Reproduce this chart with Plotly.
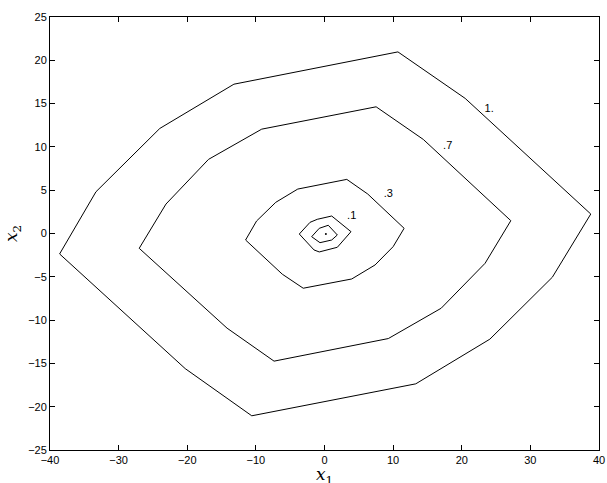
import plotly.graph_objects as go

# Contour level 1.0 (outer)
c10_x = [-38.6, -33.3, -24.0, -13.2, 10.7, 20.5, 38.8, 33.2, 24.1, 13.3, -10.6, -20.3]
c10_y = [-2.36, 4.82, 12.13, 17.24, 20.97, 15.6, 2.25, -5.05, -12.2, -17.36, -21.05, -15.6]
# Contour level 0.7
c07_x = [-27.0, -23.1, -16.9, -9.15, 7.52, 14.4, 27.15, 23.4, 17.0, 9.3, -7.35, -14.2]
c07_y = [-1.71, 3.4, 8.56, 12.05, 14.63, 10.86, 1.48, -3.44, -8.63, -12.13, -14.74, -10.93]
# Contour level 0.3
c03_x = [-11.5, -9.9, -7.1, -3.9, 3.25, 6.3, 11.6, 10.0, 7.37, 3.97, -3.1, -6.15]
c03_y = [-0.75, 1.44, 3.6, 5.13, 6.25, 4.56, 0.6, -1.52, -3.63, -5.25, -6.32, -4.7]
# Contour level 0.1
c01_x = [-3.67, -2.11, -1.05, 1.05, 3.86, 1.87, -0.76, -1.53]
c01_y = [-0.06, 1.29, 1.64, 2.02, 0.21, -1.59, -2.13, -1.9]
# Innermost contour
c00_x = [-1.87, -0.76, 0.55, 1.87, 1.05, -0.66]
c00_y = [-0.37, 0.6, 0.95, -0.17, -0.75, -1.06]
# Center point
ctr_x = [0.2]
ctr_y = [-0.06]

labels_text = ["1.", ".7", ".3", ".1"]
labels_x = [24.0, 17.95, 9.3, 3.96]
labels_y = [14.36, 10.1, 4.52, 1.94]

x_ticks = [-40, -30, -20, -10, 0, 10, 20, 30, 40]
y_ticks = [-25, -20, -15, -10, -5, 0, 5, 10, 15, 20, 25]

def closed(a):
    return list(a) + [a[0]]

fig = go.Figure()
for xs, ys in [(c10_x, c10_y), (c07_x, c07_y), (c03_x, c03_y), (c01_x, c01_y), (c00_x, c00_y)]:
    fig.add_trace(go.Scatter(x=closed(xs), y=closed(ys), mode="lines",
                             line=dict(color="black", width=1), hoverinfo="skip"))
fig.add_trace(go.Scatter(x=ctr_x, y=ctr_y, mode="markers",
                         marker=dict(color="black", size=2), hoverinfo="skip"))
fig.add_trace(go.Scatter(x=labels_x, y=labels_y, mode="text", text=labels_text,
                         textfont=dict(family="Liberation Sans, Arial", size=11, color="black"),
                         hoverinfo="skip"))

axis_common = dict(showgrid=False, zeroline=False, showline=True, linecolor="black",
                   linewidth=1, mirror="ticks", ticks="inside", ticklen=5,
                   tickcolor="black", tickwidth=1, automargin=False,
                   tickfont=dict(family="Liberation Sans, Arial", size=11, color="black"))

fig.update_xaxes(range=[-40, 40], tickvals=x_ticks,
                 ticktext=[str(v).replace("-", "\u2212") for v in x_ticks], **axis_common)
fig.update_yaxes(range=[-25, 25], tickvals=y_ticks,
                 ticktext=[str(v).replace("-", "\u2212") for v in y_ticks], **axis_common)

fig.update_layout(
    width=607, height=483,
    margin=dict(l=50, r=8, t=17, b=33),
    plot_bgcolor="white", paper_bgcolor="white",
    showlegend=False,
    annotations=[
        dict(text="<i>x</i><sub>1</sub>", xref="paper", yref="paper", x=0.5, y=0,
             xanchor="center", yanchor="top", yshift=-12, showarrow=False,
             font=dict(family="DejaVu Serif", size=17, color="black")),
        dict(text="<i>x</i><sub>2</sub>", xref="paper", yref="paper", x=0, y=0.5,
             xanchor="right", yanchor="middle", xshift=-24, showarrow=False, textangle=-90,
             font=dict(family="DejaVu Serif", size=17, color="black")),
    ],
)

fig.write_html("out.html", config={"displayModeBar": False},
               post_script="document.body.style.margin='0';document.body.style.overflow='hidden';")
